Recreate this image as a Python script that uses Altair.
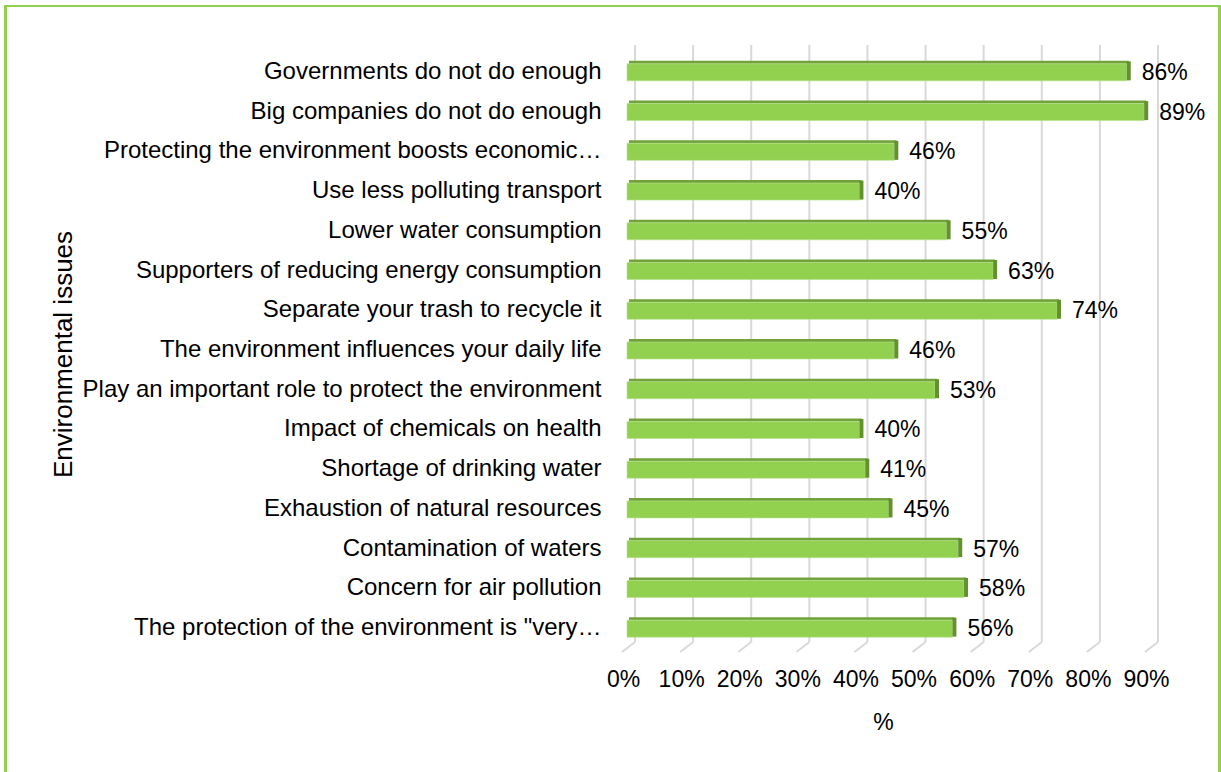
import altair as alt
import pandas as pd

categories = [
    "Governments do not do enough",
    "Big companies do not do enough",
    "Protecting the environment boosts economic…",
    "Use less polluting transport",
    "Lower water consumption",
    "Supporters of reducing energy consumption",
    "Separate your trash to recycle it",
    "The environment influences your daily life",
    "Play an important role to protect the environment",
    "Impact of chemicals on health",
    "Shortage of drinking water",
    "Exhaustion of natural resources",
    "Contamination of waters",
    "Concern for air pollution",
    "The protection of the environment is \"very…",
]
values = [0.86, 0.89, 0.46, 0.40, 0.55, 0.63, 0.74, 0.46, 0.53, 0.40, 0.41, 0.45, 0.57, 0.58, 0.56]
ticks = [0.0, 0.1, 0.2, 0.3, 0.4, 0.5, 0.6, 0.7, 0.8, 0.9]

FONT = "Liberation Sans"
df = pd.DataFrame({"cat": categories, "v": values})
gdf = pd.DataFrame({"t": ticks})

PL, PT, PW, PH = 627, 52, 523, 596

xs = alt.Scale(domain=[0, 0.9], nice=False, zero=True)
ys = alt.Scale(domain=categories, paddingInner=0, paddingOuter=0)

xaxis = alt.Axis(values=ticks, format=".0%", grid=False, domain=False, ticks=False,
                 labelFont=FONT, labelFontSize=23, labelColor="#000000", labelPadding=20,
                 labelOffset=-4, labelFlush=False, labelOverlap=False,
                 title="%", titleFont=FONT, titleFontSize=23,
                 titleFontWeight="normal", titleColor="#000000",
                 titleX=883 - PL, titleY=722 - (PT + PH), titleBaseline="middle",
                 titleAlign="center")
yaxis = alt.Axis(domain=False, ticks=False, grid=False, labelFont=FONT, labelFontSize=24,
                 labelColor="#000000", labelPadding=26, labelLimit=800,
                 title="Environmental issues", titleFont=FONT, titleFontSize=26,
                 titleFontWeight="normal", titleColor="#000000",
                 titleX=63 - PL, titleY=354 - PT, titleAngle=-90,
                 titleBaseline="middle", titleAlign="center")

grid_v = alt.Chart(gdf).mark_rule(color="#D9D9D9", strokeWidth=2, xOffset=8).encode(
    x=alt.X("t:Q", scale=xs, axis=xaxis),
    y=alt.value(45 - PT), y2=alt.value(642 - PT),
)
grid_d = alt.Chart(gdf).mark_rule(color="#D9D9D9", strokeWidth=2, xOffset=8, x2Offset=-5).encode(
    x=alt.X("t:Q", scale=xs), x2="t:Q",
    y=alt.value(642 - PT), y2=alt.value(652 - PT),
)

top_face = alt.Chart(df).mark_bar(color="#72A33A", height=3, yOffset=-9.5,
                                  xOffset=2, x2Offset=2).encode(
    x=alt.X("v:Q", scale=xs), y=alt.Y("cat:N", scale=ys, sort=categories, axis=yaxis),
)
front = alt.Chart(df).mark_bar(color="#92D050", height=17, yOffset=0.5,
                               stroke="#B5E08A", strokeWidth=0.6).encode(
    x=alt.X("v:Q", scale=xs), y=alt.Y("cat:N", scale=ys, sort=categories),
)
side = alt.Chart(df).mark_bar(color="#63912E", height=19, yOffset=-1, x2Offset=4).encode(
    x=alt.X("v:Q", scale=xs), x2="v:Q", y=alt.Y("cat:N", scale=ys, sort=categories),
)
labels = alt.Chart(df).mark_text(align="left", baseline="middle", dx=15, dy=1,
                                 font=FONT, fontSize=23, color="#000000").encode(
    x=alt.X("v:Q", scale=xs), y=alt.Y("cat:N", scale=ys, sort=categories),
    text=alt.Text("v:Q", format=".0%"),
)

border_df = pd.DataFrame({"k": [0]})
b_left = alt.Chart(border_df).mark_rule(color="#92D050", strokeWidth=3).encode(
    x=alt.value(5.5 - PL), y=alt.value(5 - PT), y2=alt.value(780 - PT))
b_right = alt.Chart(border_df).mark_rule(color="#92D050", strokeWidth=3).encode(
    x=alt.value(1219.5 - PL), y=alt.value(5 - PT), y2=alt.value(780 - PT))
b_top = alt.Chart(border_df).mark_rule(color="#92D050", strokeWidth=2).encode(
    x=alt.value(4 - PL), x2=alt.value(1221 - PL), y=alt.value(6 - PT))

chart = alt.layer(grid_v, grid_d, top_face, front, side, labels, b_left, b_right, b_top).properties(
    width=PW, height=PH,
    autosize=alt.AutoSizeParams(type="none"),
    padding={"left": PL, "top": PT, "right": 1221 - PL - PW, "bottom": 772 - PT - PH},
    background="white",
).configure_view(strokeWidth=0)

chart.save("out.html", embed_options={"renderer": "svg", "actions": False})
